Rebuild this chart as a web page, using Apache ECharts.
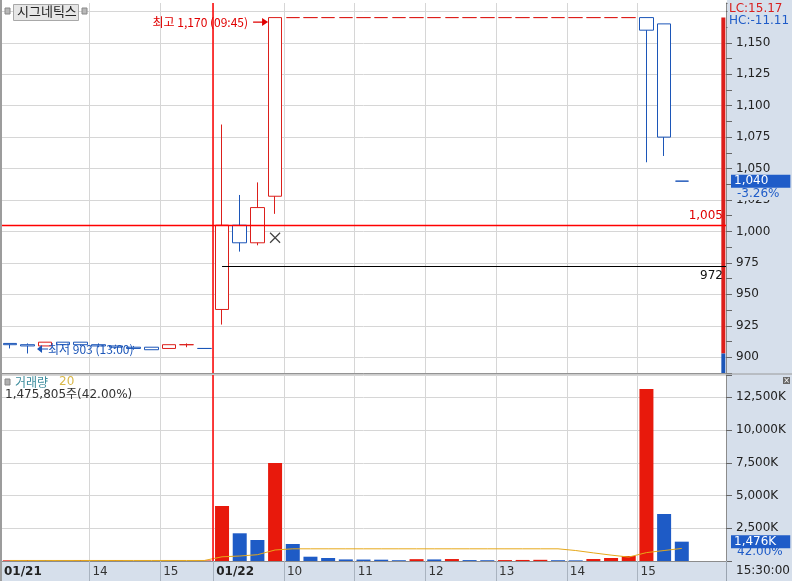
<!DOCTYPE html>
<html><head><meta charset="utf-8">
<script src="https://cdn.jsdelivr.net/npm/echarts@6/dist/echarts.min.js"></script>
<style>html,body{margin:0;padding:0;background:#fff}#c{width:792px;height:581px}</style>
</head><body><div id="c"></div>
<script>
// ---------- data ----------
const categories = [
 '01/21 12:45','01/21 13:00','01/21 13:15','01/21 13:30','01/21 13:45','01/21 14:00','01/21 14:15','01/21 14:30','01/21 14:45','01/21 15:00','01/21 15:15','01/21 15:30',
 '01/22 09:00','01/22 09:15','01/22 09:30','01/22 09:45','01/22 10:00','01/22 10:15','01/22 10:30','01/22 10:45','01/22 11:00','01/22 11:15','01/22 11:30','01/22 11:45',
 '01/22 12:00','01/22 12:15','01/22 12:30','01/22 12:45','01/22 13:00','01/22 13:15','01/22 13:30','01/22 13:45','01/22 14:00','01/22 14:15','01/22 14:30','01/22 14:45',
 '01/22 15:00','01/22 15:15','01/22 15:30'
];
// [open, close, low, high]
const ohlc = [
 [911,910,907,911],[910,909,903,911],[909,912,909,912],[912,910,909,912],[912,910,909,912],[910,909,908,911],
 [909,908,907,910],[908,907,906,909],[908,906,906,908],[907,910,907,910],[910,910,908,911],[907,907,907,907],
 [938,1005,926,1085],[1005,991,984,1029],[991,1019,989,1039],[1028,1170,1014,1170],
 [1170,1170,1170,1170],[1170,1170,1170,1170],[1170,1170,1170,1170],[1170,1170,1170,1170],
 [1170,1170,1170,1170],[1170,1170,1170,1170],[1170,1170,1170,1170],[1170,1170,1170,1170],
 [1170,1170,1170,1170],[1170,1170,1170,1170],[1170,1170,1170,1170],[1170,1170,1170,1170],
 [1170,1170,1170,1170],[1170,1170,1170,1170],[1170,1170,1170,1170],[1170,1170,1170,1170],
 [1170,1170,1170,1170],[1170,1170,1170,1170],[1170,1170,1170,1170],[1170,1170,1170,1170],
 [1170,1160,1055,1170],[1165,1075,1060,1165],[1040,1040,1040,1040]
];
// volume in thousands of shares
const volumes = [50,70,60,50,70,60,70,10,8,10,8,40,
 4200,2115,1604,7483,1298,328,229,120,110,100,60,140,120,150,70,60,70,80,90,60,50,150,230,380,13134,3589,1476];
const volumeMA = [40,40,40,40,40,40,40,40,40,40,40,40,
 320,380,480,840,930,930,930,930,930,930,930,930,930,930,930,930,930,930,930,930,800,620,450,300,640,800,960];
const priceGrid = [900,925,950,975,1000,1025,1050,1075,1100,1125,1150,1175];
const basePrice = 1005;
const avgPrice = 972;
const xMark = ['01/22 09:45', 995];
const stockName = '시그네틱스';
const volTitle = '거래량', maPeriod = '20';
const lastVolumeText = '1,475,805주(42.00%)';
const lastChange = '-3.26%', volRatio = '42.00%';
const lcText = 'LC:15.17', hcText = 'HC:-11.11';
const endTime = '15:30:00';

// ---------- derived ----------
const RED = '#dc1f1b', BLUE = '#1c56b8', VRED = '#e8190c', VBLUE = '#1e5bc6';
const N = '"DejaVu Sans","Noto Sans CJK KR",sans-serif';
const K = '"Noto Sans CJK KR","DejaVu Sans",sans-serif';
const slots = categories.concat(['', ' ']);
const NS = slots.length;
const fmt = v => v.toLocaleString('en-US');
const highs = ohlc.map(d => d[3]), lows = ohlc.map(d => d[2]);
const HIGH = Math.max(...highs), LOW = Math.min(...lows);
const iHigh = highs.indexOf(HIGH), iLow = lows.indexOf(LOW);
const lastClose = ohlc[ohlc.length - 1][1];
const lastVol = volumes[volumes.length - 1];
const yMin = 887.5, yMax = 1181.6;

const bLabel = {};
let lastLab = -10;
categories.forEach((c, i) => {
  const d = c.slice(0, 5), t = c.slice(6);
  if (i === 0 || d !== categories[i - 1].slice(0, 5)) { bLabel[i] = '{b|' + d + '}'; lastLab = i; }
  else if (t.endsWith(':00') && i - lastLab >= 3) { bLabel[i] = String(parseInt(t, 10)); lastLab = i; }
});
const dayStart = categories.findIndex((c, i) => i > 0 && c.slice(0, 5) !== categories[i - 1].slice(0, 5));
const isB = i => bLabel[i] !== undefined && i > 0;

const arrowR = 'path://M0,3.4L9,3.4L9,0L15,4L9,8L9,4.6L0,4.6Z';
const arrowL = 'path://M11,3.4L5,3.4L5,0L0,4L5,8L5,4.6L11,4.6Z';

const chart = echarts.init(document.getElementById('c'), null, {renderer: 'canvas'});
const gridLineColor = '#d6d6d6';

chart.setOption({
  animation: false,
  backgroundColor: '#ffffff',
  grid: [
    {left: 1, right: 66, top: 3, height: 370, containLabel: false, outerBoundsMode: 'none'},
    {left: 1, right: 66, top: 375, height: 186, containLabel: false, outerBoundsMode: 'none'}
  ],
  xAxis: [
    {type: 'category', gridIndex: 0, data: slots, boundaryGap: true, position: 'bottom',
     axisLine: {show: true, onZero: false, lineStyle: {color: '#8c8c8c'}}, axisTick: {show: false}, axisLabel: {show: false},
     splitLine: {show: true, interval: (i) => isB(i), lineStyle: {color: gridLineColor}}},
    {type: 'value', gridIndex: 0, min: 0, max: NS, show: false, position: 'top', axisLine: {onZero: false}},
    {type: 'category', gridIndex: 1, data: slots, boundaryGap: true, position: 'bottom',
     axisLine: {show: true, onZero: false, lineStyle: {color: '#8c8c8c'}},
     axisTick: {show: true, interval: (i) => isB(i), length: 20, lineStyle: {color: '#a9b3bf'}},
     axisLabel: {show: false},
     splitLine: {show: true, interval: (i) => isB(i), lineStyle: {color: gridLineColor}}},
    {type: 'value', gridIndex: 1, min: 0, max: NS, interval: 1, position: 'bottom',
     axisLine: {show: false, onZero: false}, axisTick: {show: false}, splitLine: {show: false},
     axisLabel: {show: true, showMinLabel: true, showMaxLabel: true, margin: 5, align: 'left', padding: [0, 0, 0, 3], color: '#333', fontFamily: N, fontSize: 12,
       formatter: v => bLabel[v] || '',
       rich: {b: {fontWeight: 'bold', color: '#222', fontFamily: N, fontSize: 12}}}}
  ],
  yAxis: [
    {type: 'value', gridIndex: 0, position: 'right', min: yMin, max: yMax, interval: 12.5,
     axisLine: {show: true, onZero: false, lineStyle: {color: '#8c8c8c'}},
     axisTick: {show: true, length: 6, lineStyle: {color: '#666'}},
     splitLine: {show: false},
     axisLabel: {margin: 10, color: '#222', fontFamily: N, fontSize: 12,
       formatter: v => (Math.abs(v % 25) < 1e-6 && v <= 1150) ? fmt(v) : ''}},
    {type: 'value', gridIndex: 1, position: 'right', min: 0, max: 14200, interval: 2500,
     axisLine: {show: true, onZero: false, lineStyle: {color: '#8c8c8c'}},
     axisTick: {show: true, length: 6, lineStyle: {color: '#666'}},
     splitLine: {show: true, lineStyle: {color: gridLineColor}},
     axisLabel: {margin: 10, color: '#222', fontFamily: N, fontSize: 12,
       formatter: v => (v > 0 && v <= 12500) ? fmt(v) + 'K' : ''}}
  ],
  series: [
    { // price gridlines
      type: 'line', xAxisIndex: 1, yAxisIndex: 0, data: [], silent: true, z: 0,
      markLine: {silent: true, symbol: ['none', 'none'], z: 0, animation: false,
        lineStyle: {color: gridLineColor, type: 'solid', width: 1}, label: {show: false},
        data: priceGrid.map(v => ({yAxis: v}))}
    },
    {
      type: 'candlestick', xAxisIndex: 0, yAxisIndex: 0, data: ohlc, barWidth: 14, z: 3,
      itemStyle: {color: '#ffffff', color0: '#ffffff', borderColor: RED, borderColor0: BLUE, borderWidth: 1},
      markPoint: {
        animation: false, silent: true,
        data: [
          {coord: [categories[iHigh], HIGH], symbol: arrowR, symbolSize: [15, 8], symbolOffset: [-14.5, 4.5],
           itemStyle: {color: '#e00000'},
           label: {show: true, position: 'left', distance: 5, color: '#e00000', fontFamily: K, fontSize: 12,
             formatter: '최고 ' + fmt(HIGH) + ' (' + categories[iHigh].slice(6) + ')'}},
          {coord: [categories[iLow], LOW], symbol: arrowL, symbolSize: [11, 8], symbolOffset: [15, -4.5],
           itemStyle: {color: BLUE},
           label: {show: true, position: 'right', distance: 0, color: BLUE, fontFamily: K, fontSize: 12,
             formatter: '최저 ' + fmt(LOW) + ' (' + categories[iLow].slice(6) + ')'}}
        ]
      }
    },
    { // high-low range bar at right edge + reference lines
      type: 'line', xAxisIndex: 1, yAxisIndex: 0, z: 4, silent: true, symbol: 'none',
      lineStyle: {color: RED, width: 4, cap: 'butt'},
      data: [[NS - 0.15, HIGH], [NS - 0.15, LOW]],
      markLine: {silent: true, symbol: ['none', 'none'], animation: false, z: 5,
        data: [
          {yAxis: basePrice, lineStyle: {color: '#ff0000', width: 1.4, type: 'solid'},
           label: {show: true, position: 'insideEndTop', distance: 3, color: '#e00000', fontFamily: N, fontSize: 12, formatter: fmt(basePrice)}},
          [{coord: [dayStart + 0.5, avgPrice], lineStyle: {color: '#000', width: 1, type: 'solid'},
            label: {show: true, position: 'insideEndBottom', distance: 3, color: '#111', fontFamily: N, fontSize: 12, formatter: fmt(avgPrice)}},
           {coord: [NS, avgPrice]}],
          {xAxis: dayStart, lineStyle: {color: '#ff0000', width: 1.5, type: 'solid'}, label: {show: false}},
          {yAxis: lastClose, lineStyle: {color: 'rgba(0,0,0,0)'},
           label: {show: true, position: 'end', distance: 5, formatter: fmt(lastClose), color: '#fff',
             backgroundColor: '#1f5cc8', padding: [1, 22, 0, 3], fontFamily: N, fontSize: 12}}
        ]}
    },
    {
      type: 'line', xAxisIndex: 1, yAxisIndex: 0, z: 4, silent: true, symbol: 'none',
      lineStyle: {color: BLUE, width: 4, cap: 'butt'},
      data: [[NS - 0.15, LOW], [NS - 0.15, yMin]]
    },
    {
      type: 'scatter', xAxisIndex: 0, yAxisIndex: 0, z: 5, silent: true,
      symbol: 'path://M0,0L10,10M10,0L0,10', symbolSize: 10,
      itemStyle: {color: 'none', borderColor: '#111', borderWidth: 1.2},
      data: [xMark]
    },
    {
      type: 'bar', xAxisIndex: 2, yAxisIndex: 1, barWidth: 14, z: 2,
      data: volumes.map((v, i) => ({value: v, itemStyle: {color: (i === 0 || v >= volumes[i - 1]) ? VRED : VBLUE}})),
      markLine: {silent: true, symbol: ['none', 'none'], animation: false,
        data: [{yAxis: lastVol, lineStyle: {color: 'rgba(0,0,0,0)'},
          label: {show: true, position: 'end', distance: 5, formatter: fmt(lastVol) + 'K', color: '#fff',
            backgroundColor: '#1f5cc8', padding: [1, 14, 0, 3], fontFamily: N, fontSize: 12}}]}
    },
    {
      type: 'line', xAxisIndex: 2, yAxisIndex: 1, z: 3, data: volumeMA, showSymbol: false, symbol: 'none',
      lineStyle: {color: '#e6a81a', width: 1}
    },
    {
      type: 'line', xAxisIndex: 3, yAxisIndex: 1, data: [], z: 4, silent: true,
      markLine: {silent: true, symbol: ['none', 'none'], animation: false,
        data: [{xAxis: dayStart, lineStyle: {color: '#ff0000', width: 1.5, type: 'solid'}, label: {show: false}}]}
    }
  ],
  graphic: [
    {type: 'rect', z: -10, shape: {x: 727, y: 0, width: 65, height: 562}, style: {fill: '#d6dfeb'}},
    {type: 'rect', z: -10, shape: {x: 0, y: 562, width: 792, height: 19}, style: {fill: '#d6dfeb'}},
    {type: 'line', z: 10, shape: {x1: 0, y1: 374, x2: 792, y2: 374}, style: {stroke: '#9a9a9a', lineWidth: 1}},
    {type: 'rect', z: 10, shape: {x: 0, y: 0, width: 2, height: 581}, style: {fill: '#9c9c9c'}},
    {type: 'line', z: 10, shape: {x1: 726.5, y1: 562, x2: 726.5, y2: 581}, style: {stroke: '#9aa4b0', lineWidth: 1}},
    // title
    {type: 'rect', z: 10, shape: {x: 5, y: 8, width: 5, height: 6}, style: {fill: '#b8b8b8', stroke: '#888', lineWidth: 1}},
    {type: 'rect', z: 10, shape: {x: 13.5, y: 4.5, width: 65, height: 16}, style: {fill: '#e6e6e6', stroke: '#a8a8a8', lineWidth: 1}},
    {type: 'rect', z: 10, shape: {x: 82, y: 8, width: 5, height: 6}, style: {fill: '#b8b8b8', stroke: '#888', lineWidth: 1}},
    {type: 'text', z: 11, x: 17, y: 5, style: {text: stockName, fill: '#222', font: '13px "Noto Sans CJK KR"', verticalAlign: 'top'}},
    // axis side texts
    {type: 'rect', z: 10, shape: {x: 727.5, y: 2, width: 64, height: 26}, style: {fill: '#d6dfeb'}},
    {type: 'text', z: 11, x: 729, y: 3, style: {text: lcText, fill: '#d81e1e', font: '12px "DejaVu Sans"', verticalAlign: 'top'}},
    {type: 'text', z: 11, x: 729, y: 15, style: {text: hcText, fill: '#1f5cc8', font: '12px "DejaVu Sans"', verticalAlign: 'top'}},
    {type: 'text', z: 11, x: 737, y: 188, style: {text: lastChange, fill: '#1f5cc8', backgroundColor: '#d6dfeb', font: '12px "DejaVu Sans"', verticalAlign: 'top'}},
    {type: 'text', z: 11, x: 737, y: 546, style: {text: volRatio, fill: '#1f5cc8', font: '12px "DejaVu Sans"', verticalAlign: 'top'}},
    {type: 'text', z: 11, x: 736, y: 565, style: {text: endTime, fill: '#222', font: '12px "DejaVu Sans"', verticalAlign: 'top'}},
    // volume header
    {type: 'rect', z: 10, shape: {x: 5, y: 379, width: 5, height: 6}, style: {fill: '#b0b0b0', stroke: '#888', lineWidth: 1}},
    {type: 'text', z: 11, x: 15, y: 376, style: {text: volTitle, fill: '#3b8c9c', font: '12px "Noto Sans CJK KR"', verticalAlign: 'top'}},
    {type: 'text', z: 11, x: 59, y: 376, style: {text: maPeriod, fill: '#d9b84a', font: '12px "DejaVu Sans"', verticalAlign: 'top'}},
    {type: 'text', z: 11, x: 5, y: 389, style: {text: lastVolumeText, fill: '#333', font: '12px "DejaVu Sans","Noto Sans CJK KR"', verticalAlign: 'top'}},
    // close icon
    {type: 'rect', z: 10, shape: {x: 783, y: 377, width: 7, height: 7}, style: {fill: '#666'}},
    {type: 'text', z: 11, x: 786.5, y: 380.5, style: {text: '×', fill: '#fff', font: '8px "DejaVu Sans"', align: 'center', verticalAlign: 'middle'}}
  ]
});
</script>
</body></html>
